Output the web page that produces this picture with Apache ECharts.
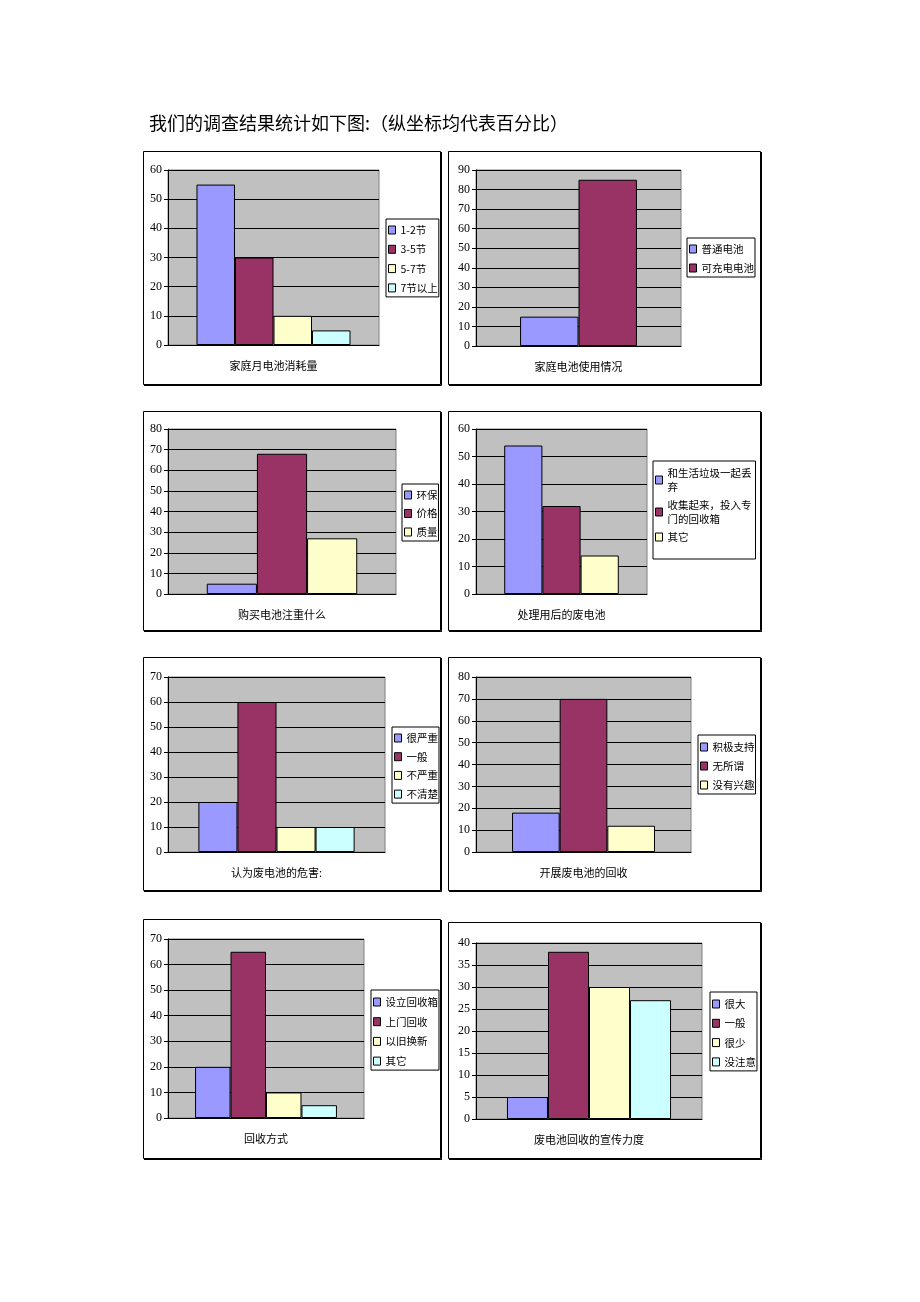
<!DOCTYPE html>
<html><head><meta charset="utf-8">
<script src="https://cdn.jsdelivr.net/npm/echarts@6/dist/echarts.min.js"></script>
<style>html,body{margin:0;padding:0;background:#fff}#c{width:920px;height:1302px}</style>
</head><body><div id="c"></div>
<script>
// ---------------- DATA ----------------
const pageTitle = '我们的调查结果统计如下图:（纵坐标均代表百分比）';

const chart1Title = '家庭月电池消耗量';
const chart1Names = ['1-2节', '3-5节', '5-7节', '7节以上'];
const chart1Values = [55, 30, 10, 5];
const chart1Ticks = [0, 10, 20, 30, 40, 50, 60];

const chart2Title = '家庭电池使用情况';
const chart2Names = ['普通电池', '可充电电池'];
const chart2Values = [15, 85];
const chart2Ticks = [0, 10, 20, 30, 40, 50, 60, 70, 80, 90];

const chart3Title = '购买电池注重什么';
const chart3Names = ['环保', '价格', '质量'];
const chart3Values = [5, 68, 27];
const chart3Ticks = [0, 10, 20, 30, 40, 50, 60, 70, 80];

const chart4Title = '处理用后的废电池';
const chart4Names = ['和生活垃圾一起丢弃', '收集起来，投入专门的回收箱', '其它'];
const chart4Values = [54, 32, 14];
const chart4Ticks = [0, 10, 20, 30, 40, 50, 60];

const chart5Title = '认为废电池的危害:';
const chart5Names = ['很严重', '一般', '不严重', '不清楚'];
const chart5Values = [20, 60, 10, 10];
const chart5Ticks = [0, 10, 20, 30, 40, 50, 60, 70];

const chart6Title = '开展废电池的回收';
const chart6Names = ['积极支持', '无所谓', '没有兴趣'];
const chart6Values = [18, 70, 12];
const chart6Ticks = [0, 10, 20, 30, 40, 50, 60, 70, 80];

const chart7Title = '回收方式';
const chart7Names = ['设立回收箱', '上门回收', '以旧换新', '其它'];
const chart7Values = [20, 65, 10, 5];
const chart7Ticks = [0, 10, 20, 30, 40, 50, 60, 70];

const chart8Title = '废电池回收的宣传力度';
const chart8Names = ['很大', '一般', '很少', '没注意'];
const chart8Values = [5, 38, 30, 27];
const chart8Ticks = [0, 5, 10, 15, 20, 25, 30, 35, 40];

const barColors = ['#9999FF', '#993366', '#FFFFCC', '#CCFFFF'];

// ---------------- LAYOUT ----------------
const charts = [
  {title: chart1Title, names: chart1Names, values: chart1Values, ticks: chart1Ticks},
  {title: chart2Title, names: chart2Names, values: chart2Values, ticks: chart2Ticks},
  {title: chart3Title, names: chart3Names, values: chart3Values, ticks: chart3Ticks},
  {title: chart4Title, names: chart4Names, values: chart4Values, ticks: chart4Ticks},
  {title: chart5Title, names: chart5Names, values: chart5Values, ticks: chart5Ticks},
  {title: chart6Title, names: chart6Names, values: chart6Values, ticks: chart6Ticks},
  {title: chart7Title, names: chart7Names, values: chart7Values, ticks: chart7Ticks},
  {title: chart8Title, names: chart8Names, values: chart8Values, ticks: chart8Ticks}
];

const layout = [
  {box: [143, 151, 297, 233], grid: [168, 170, 211, 175], gap: '27%', lg: {left: 386, top: 219, pitch: 19.3, pad: [4, 1, 2, 2]}},
  {box: [448, 151, 312, 233], grid: [476, 170, 205, 176], gap: '43%', lg: {left: 687, top: 238, pitch: 19, pad: [4, 1, 2, 2]}},
  {box: [143, 411, 297, 219], grid: [168, 429, 228, 165], gap: '34%', lg: {left: 402, top: 484, pitch: 18.5, pad: [4, 1, 2, 2]}},
  {box: [448, 411, 312, 219], grid: [476, 429, 171, 165], gap: '33%', lg: {left: 653, top: 461, pitch: 18, pad: [5, 2, 15, 2], wrap: 86}},
  {box: [143, 657, 297, 233], grid: [168, 677, 217, 175], gap: '28%', lg: {left: 392, top: 727, pitch: 18.7, pad: [4, 1, 2, 2]}},
  {box: [448, 657, 312, 233], grid: [476, 677, 215, 175], gap: '33.5%', lg: {left: 698, top: 735, pitch: 19, pad: [5, 1, 2, 2]}},
  {box: [143, 919, 297, 239], grid: [168, 939, 196, 179], gap: '27.6%', lg: {left: 371, top: 990, pitch: 19.7, pad: [5, 1, 2, 2]}},
  {box: [448, 922, 312, 236], grid: [476, 943, 226, 176], gap: '27.4%', lg: {left: 710, top: 992, pitch: 19.3, pad: [5, 1, 2, 2]}}
];

const CJK = '"Noto Sans CJK SC", "Noto Sans", sans-serif';
const NUM = '"Liberation Serif", "DejaVu Serif", serif';

const grids = [], xAxes = [], yAxes = [], legends = [], series = [], graphics = [];

charts.forEach((c, i) => {
  const L = layout[i];
  const [gl, gt, gw, gh] = L.grid;
  grids.push({left: gl, top: gt, width: gw, height: gh, show: true,
    backgroundColor: '#C0C0C0', borderColor: '#808080', borderWidth: 1});
  xAxes.push({type: 'category', gridIndex: i, data: [c.title],
    axisLabel: {show: false}, axisTick: {show: false},
    axisLine: {show: true, lineStyle: {color: '#000', width: 1}},
    name: c.title, nameLocation: 'middle', nameGap: 15,
    nameTextStyle: {fontSize: 11, color: '#000', fontFamily: CJK}});
  const t = c.ticks;
  yAxes.push({type: 'value', gridIndex: i, min: t[0], max: t[t.length - 1], interval: t[1] - t[0],
    axisLine: {show: true, lineStyle: {color: '#000', width: 1}},
    axisTick: {show: true, length: 4, lineStyle: {color: '#000'}},
    axisLabel: {fontSize: 12, fontFamily: NUM, color: '#000', margin: 6},
    splitLine: {show: true, lineStyle: {color: '#000', width: 1}}});
  const lgText = {fontSize: 10.5, lineHeight: 14, color: '#000', fontFamily: CJK};
  if (L.lg.wrap) { lgText.width = L.lg.wrap; lgText.overflow = 'break'; }
  legends.push({orient: 'vertical', left: L.lg.left, top: L.lg.top,
    itemWidth: 7, itemHeight: 8, itemGap: L.lg.pitch - 14, icon: 'rect',
    padding: L.lg.pad, backgroundColor: '#fff', borderColor: '#000', borderWidth: 1,
    textStyle: lgText, selectedMode: false,
    data: c.names.map((n, k) => ({name: n, icon: 'rect',
      itemStyle: {color: barColors[k], borderColor: '#000', borderWidth: 1}}))});
  c.names.forEach((n, k) => {
    series.push({type: 'bar', name: n, xAxisIndex: i, yAxisIndex: i,
      data: [c.values[k]], barGap: '0%', barCategoryGap: L.gap,
      itemStyle: {color: barColors[k], borderColor: '#000', borderWidth: 1},
      emphasis: {disabled: true}});
  });
  const [bx, by, bw, bh] = L.box;
  graphics.push({type: 'rect', silent: true,
    shape: {x: bx + 0.5, y: by + 0.5, width: bw, height: bh},
    style: {fill: 'none', stroke: '#000', lineWidth: 1}});
  graphics.push({type: 'polyline', silent: true,
    shape: {points: [[bx + bw + 1.5, by + 1], [bx + bw + 1.5, by + bh + 1.5], [bx + 1, by + bh + 1.5]]},
    style: {fill: 'none', stroke: '#000', lineWidth: 1}});
});

const chart = echarts.init(document.getElementById('c'), null, {renderer: 'canvas'});
chart.setOption({
  animation: false,
  backgroundColor: '#fff',
  title: {text: pageTitle, left: 149, top: 114, padding: 0,
    textStyle: {fontSize: 18, fontWeight: 'normal', color: '#000', fontFamily: CJK}},
  grid: grids, xAxis: xAxes, yAxis: yAxes, legend: legends, series: series,
  graphic: graphics
});
</script></body></html>
